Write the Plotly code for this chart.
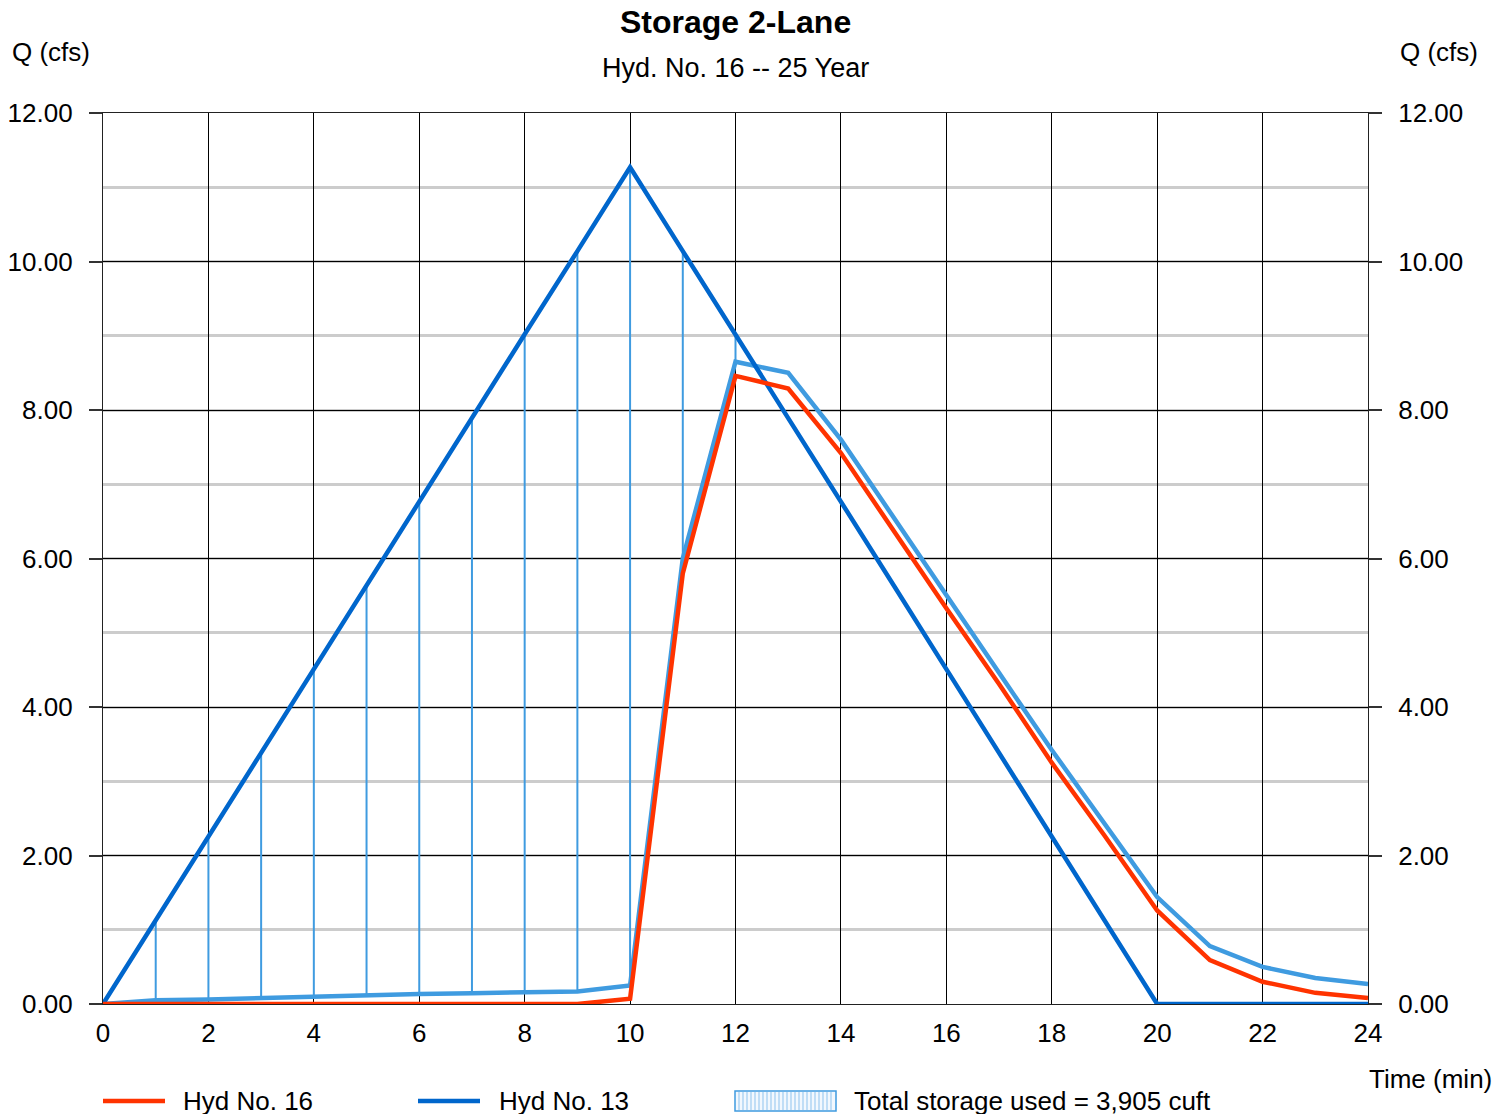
import plotly.graph_objects as go

# ---- data ----
time_min = list(range(0, 25))
hyd13 = [0, 1.13, 2.25, 3.38, 4.51, 5.64, 6.76, 7.89, 9.02, 10.14, 11.27,
         10.14, 9.02, 7.89, 6.76, 5.64, 4.51, 3.38, 2.25, 1.13, 0, 0, 0, 0, 0]
hyd16 = [0, 0, 0, 0, 0, 0, 0, 0, 0, 0, 0.07, 5.80, 8.46, 8.29, 7.42, 6.37,
         5.33, 4.31, 3.25, 2.27, 1.26, 0.59, 0.30, 0.15, 0.08]
storage_edge = [0, 0.05, 0.06, 0.08, 0.10, 0.11, 0.135, 0.145, 0.15, 0.17, 0.25,
                6.00, 8.65, 8.50, 7.60, 6.55, 5.49, 4.46, 3.42, 2.44, 1.44,
                0.78, 0.50, 0.35, 0.27]
x_ticks = list(range(0, 25, 2))
y_ticks = [0, 2, 4, 6, 8, 10, 12]

title = "Storage 2-Lane"
subtitle = "Hyd. No. 16 -- 25 Year"
storage_label = "Total storage used = 3,905 cuft"

RED = "#FF3300"
BLUE = "#0066CC"
LBLUE = "#3F9BE0"
FONT = "Liberation Sans, Arial, sans-serif"
FS = 26

# hatch lines: vertical segments where inflow exceeds storage edge
hx, hy = [], []
for t, a, b in zip(time_min, storage_edge, hyd13):
    if b > a + 0.05:
        hx += [t, t, None]
        hy += [a, b, None]

fig = go.Figure()
fig.add_trace(go.Scatter(x=hx, y=hy, mode="lines", line=dict(color=LBLUE, width=2),
                         showlegend=False, hoverinfo="skip"))
fig.add_trace(go.Scatter(x=time_min, y=storage_edge, mode="lines",
                         line=dict(color=LBLUE, width=4.5), showlegend=False))
fig.add_trace(go.Scatter(x=time_min, y=hyd13, mode="lines",
                         line=dict(color=BLUE, width=4.5), name="Hyd No. 13", showlegend=False))
fig.add_trace(go.Scatter(x=time_min, y=hyd16, mode="lines",
                         line=dict(color=RED, width=4.5), name="Hyd No. 16", showlegend=False))
# invisible trace to anchor the right axis
fig.add_trace(go.Scatter(x=time_min, y=hyd13, mode="lines", yaxis="y2",
                         line=dict(color="rgba(0,0,0,0)", width=0), showlegend=False,
                         hoverinfo="skip"))

# screen geometry (page has an 8px body margin)
OFF = 8
SL, SR, ST, SB = 103, 1368, 113, 1004   # plot area on screen
W, H = 1512 - OFF, 1114 - OFF
L, T = SL - OFF, ST - OFF
R = W - (SR - OFF)
B = H - (SB - OFF)
PW, PH = SR - SL, SB - ST


def px(xp):
    return (xp - SL) / PW


def py(yp):
    return (SB - yp) / PH


axis_font = dict(family=FONT, size=FS, color="black")
fig.update_layout(
    width=W, height=H,
    margin=dict(l=L, r=R, t=T, b=B, autoexpand=False),
    paper_bgcolor="white", plot_bgcolor="white",
    font=dict(family=FONT, size=FS, color="black"),
    showlegend=False,
    xaxis=dict(range=[0, 24], tickvals=x_ticks, ticktext=[str(v) for v in x_ticks],
               showgrid=True, gridcolor="black", gridwidth=1, zeroline=False,
               showline=True, linecolor="#222222", linewidth=1.2, mirror=True, automargin=False,
               ticks="", ticklabelstandoff=6, tickfont=axis_font),
    yaxis=dict(range=[0, 12], tickvals=y_ticks, tickformat=".2f", automargin=False,
               showgrid=True, gridcolor="black", gridwidth=1, zeroline=False,
               showline=True, linecolor="#222222", linewidth=1.2, mirror=True,
               ticks="outside", ticklen=13, tickcolor="#333333", tickwidth=1.5,
               ticklabelstandoff=11, tickfont=axis_font,
               minor=dict(dtick=1, showgrid=True, gridcolor="#CCCCCC", gridwidth=2.5, ticks="")),
    yaxis2=dict(range=[0, 12], tickvals=y_ticks, tickformat=".2f", overlaying="y",
                side="right", showgrid=False, zeroline=False, automargin=False,
                ticks="outside", ticklen=13, tickcolor="#333333", tickwidth=1.5,
                ticklabelstandoff=11, tickfont=axis_font),
)

ann = [
    dict(text="<b>" + title + "</b>", x=0.5, y=py(22), font=dict(size=32), xanchor="center"),
    dict(text=subtitle, x=0.5, y=py(68), font=dict(size=27), xanchor="center"),
    dict(text="Q (cfs)", x=px(10), y=py(52), xanchor="left"),
    dict(text="Q (cfs)", x=px(1398), y=py(52), xanchor="left"),
    dict(text="Time (min)", x=px(1494), y=py(1079), xanchor="right"),
    dict(text="Hyd No. 16", x=px(181), y=py(1101), xanchor="left"),
    dict(text="Hyd No. 13", x=px(497), y=py(1101), xanchor="left"),
    dict(text=storage_label, x=px(852), y=py(1101), xanchor="left"),
]
for a in ann:
    a.update(xref="paper", yref="paper", yanchor="middle", showarrow=False)
    a.setdefault("font", dict(size=FS))
    a["font"] = dict(family=FONT, color="black", **a["font"])
fig.update_layout(annotations=ann)

shapes = [
    dict(type="line", xref="paper", yref="paper", x0=px(103), x1=px(165), y0=py(1101), y1=py(1101),
         line=dict(color=RED, width=4.5)),
    dict(type="line", xref="paper", yref="paper", x0=px(418), x1=px(480), y0=py(1101), y1=py(1101),
         line=dict(color=BLUE, width=4.5)),
    dict(type="rect", xref="paper", yref="paper", x0=px(735), x1=px(836), y0=py(1091), y1=py(1111),
         line=dict(color=LBLUE, width=1.5), fillcolor="#F2F8FE"),
]
xx = 739
while xx < 835:
    shapes.append(dict(type="line", xref="paper", yref="paper", x0=px(xx), x1=px(xx),
                       y0=py(1092), y1=py(1110), line=dict(color="#8EC3EE", width=1)))
    xx += 4
fig.update_layout(shapes=shapes)

fig.write_html("out.html")
